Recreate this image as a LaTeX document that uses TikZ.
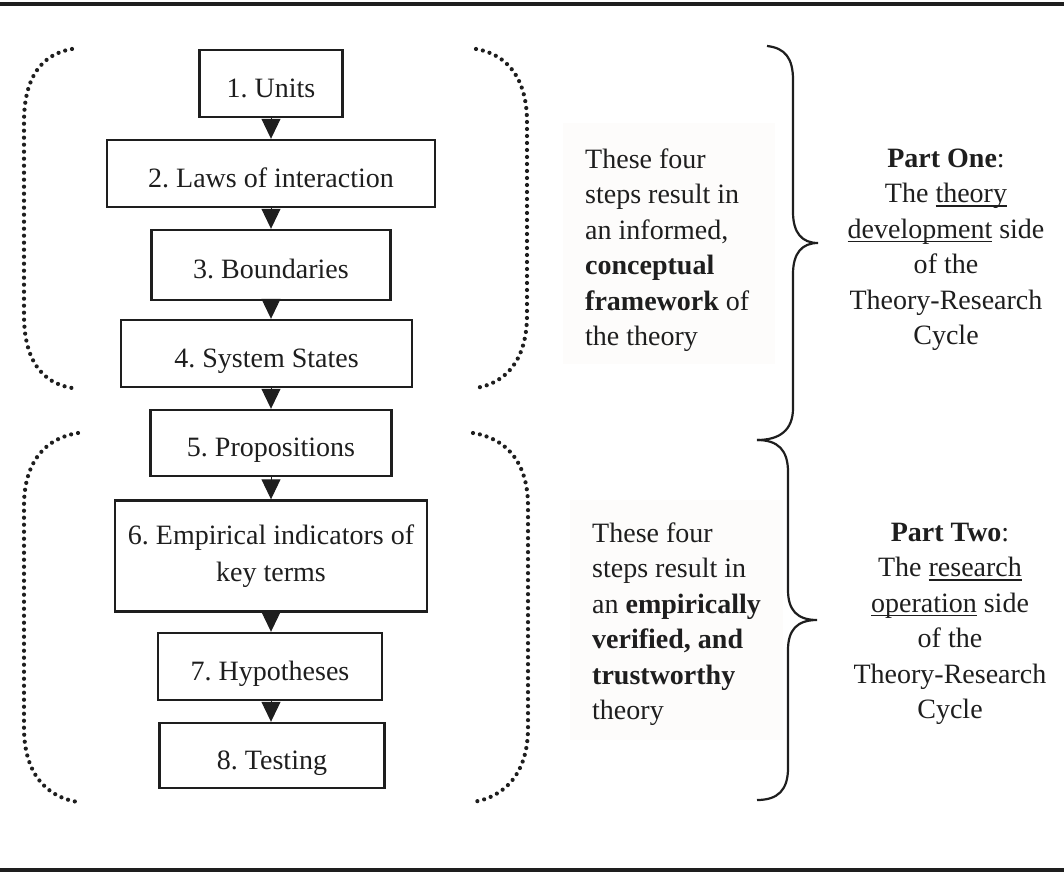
\documentclass[tikz,border=0pt]{standalone}
\usepackage{fontspec}
\setmainfont{Liberation Serif}
\usetikzlibrary{arrows.meta}
\definecolor{ink}{RGB}{30,30,30}
\definecolor{paper}{RGB}{253,252,251}
\frenchspacing
% underline sitting just under the baseline, crossed by descenders
\newsavebox{\lowlinebox}
\newcommand{\lowline}[1]{\sbox{\lowlinebox}{#1}\rlap{\rule[-4pt]{\wd\lowlinebox}{1.6pt}}\usebox{\lowlinebox}}
\begin{document}
\begin{tikzpicture}[x=1pt,y=-1pt,
  every node/.style={text=ink,font=\fontsize{28}{35.5}\selectfont},
  stepbox/.style={draw=ink,line width=2.4pt,fill=white,inner sep=0pt,align=center,
    font=\fontsize{28}{37}\selectfont},
  onebox/.style={stepbox,text height=27.5pt,text depth=0pt},
  flow/.style={draw=ink,line width=1pt,-{Triangle[width=19pt,length=20pt]}},
  dotbracket/.style={draw=ink,line width=4.2pt,line cap=round,dash pattern=on 0pt off 7pt},
  bracepath/.style={draw=ink,line width=2.2pt},
  rulebar/.style={draw=ink,line width=4pt},
  note/.style={align=left,inner sep=0pt},
  partnote/.style={align=center,inner sep=0pt}]
\useasboundingbox (0,0) rectangle (1064,874);

% horizontal rules
\draw[rulebar] (0,4.5) -- (1064,4.5);
\draw[rulebar] (0,870) -- (1064,870);

% the eight steps
\node[onebox,minimum width=143pt,minimum height=67pt] (s1) at (271,83.5) {1. Units};
\node[onebox,minimum width=328pt,minimum height=67pt] (s2) at (271,173.5) {2. Laws of interaction};
\node[onebox,minimum width=239pt,minimum height=70pt] (s3) at (271,265) {3. Boundaries};
\node[onebox,minimum width=291pt,minimum height=67pt] (s4) at (266.5,353.5) {4. System States};
\node[onebox,minimum width=241pt,minimum height=66pt] (s5) at (271,443) {5. Propositions};
\node[stepbox,minimum width=312pt,minimum height=111pt] (s6) at (271,556) {6. Empirical indicators of\\key terms};
\node[onebox,minimum width=224pt,minimum height=67pt] (s7) at (270,666.5) {7. Hypotheses};
\node[onebox,minimum width=225pt,minimum height=65pt] (s8) at (272,755.5) {8. Testing};

\foreach \a/\b in {s1/s2,s2/s3,s3/s4,s4/s5,s5/s6,s6/s7,s7/s8}
  \draw[flow] (\a.south -| 271,0) -- (\b.north -| 271,0);

% dotted brackets around each group of four
\draw[dotbracket] (72,49) .. controls (42,54) and (24,77) .. (24,122) -- (24,315)
  .. controls (24,360) and (42,383) .. (72,388);
\draw[dotbracket] (476,49) .. controls (506,54) and (527,77) .. (527,122) -- (527,315)
  .. controls (527,360) and (506,383) .. (476,388);
\draw[dotbracket] (78,433) .. controls (46,438) and (24,461) .. (24,506) -- (24,728)
  .. controls (24,773) and (46,797) .. (78,802);
\draw[dotbracket] (473,433) .. controls (505,438) and (528,461) .. (528,506) -- (528,728)
  .. controls (528,773) and (505,797) .. (473,802);

% curly braces
\draw[bracepath] (767,46) .. controls (785,48) and (793,58) .. (793,80) -- (793,212)
  .. controls (793,233) and (802,243) .. (818,243)
  .. controls (802,243) and (793,253) .. (793,274) -- (793,408)
  .. controls (793,430) and (780,440) .. (757,440);
\draw[bracepath] (757,440) .. controls (778,440) and (788,450) .. (788,472) -- (788,590)
  .. controls (788,610) and (797,620) .. (817,620)
  .. controls (797,620) and (788,630) .. (788,650) -- (788,768)
  .. controls (788,790) and (778,800) .. (757,800);

% summary texts
\fill[paper] (563,123) rectangle (775,364);
\fill[paper] (570,500) rectangle (783,740);
\node[note,anchor=west] (t1) at (585,250) {These four\\steps result in\\an informed,\\\textbf{conceptual}\\\textbf{framework} of\\the theory};
\node[note,anchor=west] (t2) at (592,624) {These four\\steps result in\\an \textbf{empirically}\\\textbf{verified, and}\\\textbf{trustworthy}\\theory};

\node[partnote] (p1) at (946,250) {\textbf{Part One}:\\The \lowline{theory}\\\lowline{development} side\\of the\\Theory-Research\\Cycle};
\node[partnote] (p2) at (950,624) {\textbf{Part Two}:\\The \lowline{research}\\\lowline{operation} side\\of the\\Theory-Research\\Cycle};
\end{tikzpicture}
\end{document}
